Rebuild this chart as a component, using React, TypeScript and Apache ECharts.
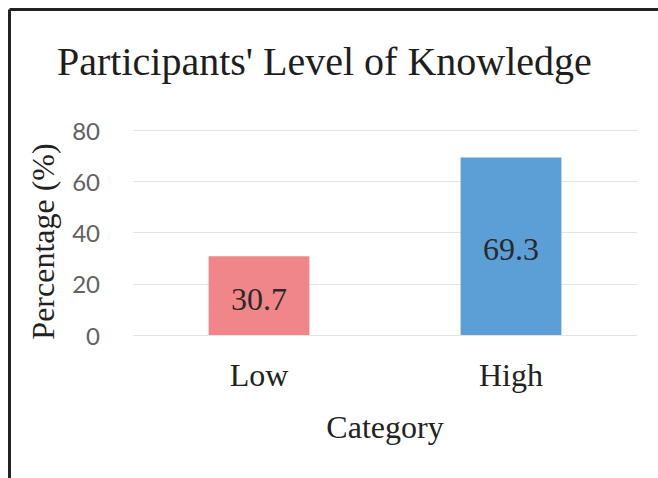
import React, { useEffect, useRef } from "react";
import * as echarts from "echarts";

const categories = ["Low", "High"];
const values = [30.7, 69.3];
const barColors = ["#F1868A", "#5B9FD6"];
const yTicks = { min: 0, max: 80, interval: 20 };
const titleText = "Participants' Level of Knowledge";
const xName = "Category";
const yName = "Percentage (%)";

export default function App() {
  const ref = useRef<HTMLDivElement>(null);
  useEffect(() => {
    if (!ref.current) return;
    const chart = echarts.init(ref.current, undefined, { renderer: "svg" });
    const serif = "'Liberation Serif', 'Times New Roman', serif";
    chart.setOption({
      animation: false,
      backgroundColor: "#ffffff",
      title: {
        text: titleText,
        left: 52,
        top: 36,
        textStyle: { fontFamily: serif, fontSize: 40, fontWeight: "normal", color: "#1e1e1e" },
      },
      grid: { left: 133, right: 21, top: 130, bottom: 143 },
      xAxis: {
        type: "category",
        data: categories,
        name: xName,
        nameLocation: "middle",
        nameGap: 76,
        nameTextStyle: { fontFamily: serif, fontSize: 32, color: "#222" },
        axisLine: { show: false },
        axisTick: { show: false },
        axisLabel: { fontFamily: serif, fontSize: 32, color: "#222", margin: 24 },
      },
      yAxis: {
        type: "value",
        min: yTicks.min,
        max: yTicks.max,
        interval: yTicks.interval,
        name: yName,
        nameLocation: "middle",
        nameGap: 74,
        nameTextStyle: { fontFamily: serif, fontSize: 32, color: "#222", padding: [0, 18, 0, 0] },
        axisLine: { show: false },
        axisTick: { show: false },
        axisLabel: { fontFamily: "Lato, 'Open Sans', sans-serif", fontSize: 24, color: "#626262", margin: 33, padding: [10, 0, 0, 0] },
        splitLine: { lineStyle: { color: "#e4e4e4", width: 1 } },
      },
      series: [
        {
          type: "bar",
          barWidth: "40%",
          data: values.map((v, i) => ({ value: v, itemStyle: { color: barColors[i] } })),
          label: {
            show: true,
            position: "inside",
            offset: [0, 3],
            fontFamily: serif,
            fontSize: 32,
            color: "#2a2a2a",
            formatter: (p: any) => p.value.toFixed(1),
          },
        },
      ],
      graphic: [
        { type: "line", shape: { x1: 9.5, y1: 9.5, x2: 658, y2: 9.5 }, style: { stroke: "#222", lineWidth: 3 } },
        { type: "line", shape: { x1: 9.5, y1: 9.5, x2: 9.5, y2: 478 }, style: { stroke: "#222", lineWidth: 3 } },
      ],
    });
    return () => chart.dispose();
  }, []);
  return (
    <div
      ref={ref}
      style={{ position: "fixed", left: 0, top: 0, width: 658, height: 478, background: "#fff" }}
    />
  );
}
